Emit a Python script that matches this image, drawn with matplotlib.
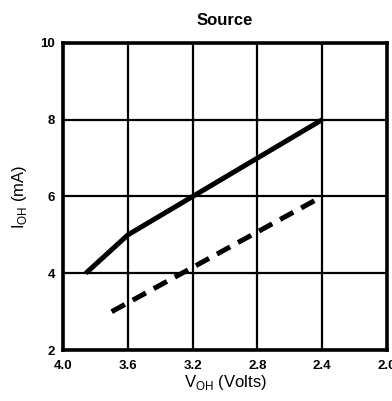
import numpy as np
import matplotlib.pyplot as plt

plt.rcParams['font.family'] = ['Liberation Sans', 'DejaVu Sans']

# data
solid_v = [3.86, 3.6, 2.4]
solid_i = [4.0, 5.0, 8.0]
dash_v = [3.7, 2.4]
dash_i = [3.0, 6.0]

xticks = [4.0, 3.6, 3.2, 2.8, 2.4, 2.0]
yticks = [2, 4, 6, 8, 10]

fig = plt.figure(figsize=(3.92, 4.01), dpi=100)
ax = fig.add_axes([0.161, 0.127, 0.826, 0.766])

ax.plot(solid_v, solid_i, color='black', lw=3.6, solid_capstyle='butt')
ax.plot(dash_v, dash_i, color='black', lw=3.6, dashes=(3.0, 1.8))

ax.set_xlim(4.0, 2.0)
ax.set_ylim(2, 10)
ax.set_xticks(xticks)
ax.set_yticks(yticks)
ax.set_xticklabels(['%.1f' % v for v in xticks], fontweight='bold', fontsize=9.5)
ax.set_yticklabels([str(v) for v in yticks], fontweight='bold', fontsize=9.5)
ax.tick_params(axis='x', length=0, pad=7)
ax.tick_params(axis='y', length=0, pad=6)
ax.grid(True, color='black', lw=1.6)
for s in ax.spines.values():
    s.set_linewidth(2.6)

ax.set_title('Source', fontweight='bold', fontsize=12, pad=13)
ax.set_xlabel('V$_{\\mathregular{OH}}$ (Volts)', fontsize=12, labelpad=1)
ax.set_ylabel('I$_{\\mathregular{OH}}$ (mA)', fontsize=12, labelpad=8)

fig.savefig('out.png', dpi=100)
